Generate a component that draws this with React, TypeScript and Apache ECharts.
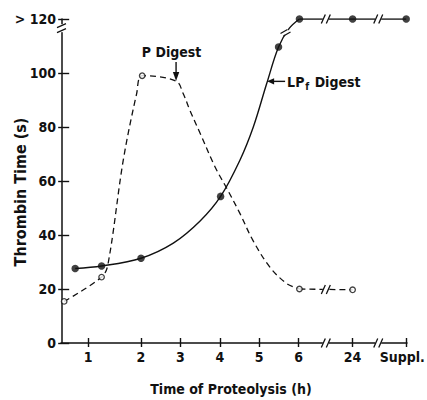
import React, { useEffect, useRef } from 'react';
import * as echarts from 'echarts';

// Tick labels and where they sit on the (drawn, piecewise) time axis
const xTickLabels = ['1', '2', '3', '4', '5', '6', '24', 'Suppl.'];
const xTickPos = [0.66, 2, 3, 4, 5, 6, 7.37, 8.73];
const yTickValues = [0, 20, 40, 60, 80, 100, 120];
const yTickLabels = ['0', '20', '40', '60', '80', '100', '> 120'];

// LPf Digest (solid line, filled dots)
const lpfDotX = [0.33, 1.0, 2.0, 4.02, 5.49, 6.02, 7.37, 8.73];
const lpfDotY = [27.6, 28.5, 31.4, 54.3, 109.6, 120, 120, 120];
const lpfCurveX = [0.33, 1.0, 2.0, 2.82, 3.5, 4.02, 4.51, 4.85, 5.19, 5.49, 5.76, 6.02];
const lpfCurveY = [27.6, 28.5, 31.4, 37.0, 45.2, 54.3, 67.7, 80.0, 96.1, 109.6, 116.5, 120];
const lpfFlatX = [6.02, 7.37, 8.73];
const lpfFlatY = [120, 120, 120];

// P Digest (dashed line, open circles)
const pDotX = [0.05, 1.0, 2.03, 6.02, 7.37];
const pDotY = [15.4, 24.4, 99.0, 20.0, 19.7];
const pCurveX = [0.05, 1.0, 1.16, 1.55, 1.89, 2.03, 2.89, 3.07, 3.24, 3.5, 3.88, 4.18, 4.51, 4.84, 5.27, 5.7, 6.02];
const pCurveY = [15.4, 24.4, 29.0, 67.7, 92.4, 99.0, 97.0, 92.4, 86.2, 77.7, 65.2, 57.2, 48.0, 38.0, 28.1, 22.0, 20.0];
const pFlatX = [6.02, 7.37];
const pFlatY = [20.0, 19.7];

// axis breaks (time axis) and annotation anchors
const xBreaks = [6.69, 8.02];
const yBreak = 116.6;
const curveBreak = [5.68, 115.2];
const pArrowAt = [2.89, 97.0];
const lpfArrowAt = [5.2, 96.9];

const zip = (xs: number[], ys: number[]) => xs.map((x, i) => [x, ys[i]]);

const INK = '#111';
const FAMILY = '"DejaVu Sans Condensed", "Liberation Sans Narrow", sans-serif';
const font = (s: number) => `bold ${s}px ${FAMILY}`;

export default function App() {
  const ref = useRef<HTMLDivElement>(null);

  useEffect(() => {
    document.body.style.margin = '0';
    if (!ref.current) return;
    const chart = echarts.init(ref.current, undefined, { renderer: 'svg' });

    const xLabel = (v: number) => {
      const i = xTickPos.findIndex((p) => Math.abs(p - v) < 1e-6);
      if (i < 0) return '';
      return i === xTickLabels.length - 1 ? `{last|${xTickLabels[i]}}` : xTickLabels[i];
    };
    const yLabel = (v: number) => {
      const i = yTickValues.indexOf(v);
      return i >= 0 ? yTickLabels[i] : '';
    };

    const axisX = (inner: boolean) => ({
      type: 'value',
      min: -0.03,
      max: 8.75,
      position: 'bottom',
      offset: 0,
      axisLine: { show: !inner, lineStyle: { color: INK, width: 1.5 } },
      axisTick: {
        show: true,
        inside: inner,
        length: inner ? 5 : 4,
        customValues: xTickPos,
        lineStyle: { color: INK, width: 1.4 },
      },
      axisLabel: {
        show: !inner,
        customValues: xTickPos,
        formatter: xLabel,
        margin: 7,
        color: INK,
        fontFamily: FAMILY,
        fontWeight: 'bold',
        fontSize: 14,
        rich: {
          last: { fontFamily: FAMILY, fontWeight: 'bold', fontSize: 14, color: INK, padding: [0, 8, 0, 0] },
        },
      },
      splitLine: { show: false },
    });

    const axisY = (inner: boolean) => ({
      type: 'value',
      min: 0,
      max: 120,
      interval: 20,
      position: 'left',
      offset: 0,
      axisLine: { show: !inner, lineStyle: { color: INK, width: 1.5 } },
      axisTick: {
        show: true,
        inside: inner,
        length: inner ? 7 : 4,
        lineStyle: { color: INK, width: 1.4 },
      },
      axisLabel: {
        show: !inner,
        formatter: yLabel,
        margin: 5,
        color: INK,
        fontFamily: FAMILY,
        fontWeight: 'bold',
        fontSize: 14,
      },
      splitLine: { show: false },
    });

    chart.setOption({
      animation: false,
      backgroundColor: '#fff',
      grid: { left: 61, right: 20, top: 19, bottom: 57, containLabel: false, outerBoundsMode: 'none' },
      xAxis: [axisX(false), axisX(true)],
      yAxis: [axisY(false), axisY(true)],
      series: [
        {
          name: 'LPf Digest',
          type: 'line',
          data: zip(lpfCurveX, lpfCurveY),
          smooth: 0.35,
          symbol: 'none',
          lineStyle: { color: INK, width: 1.4 },
          z: 2,
        },
        {
          type: 'line',
          data: zip(lpfFlatX, lpfFlatY),
          symbol: 'none',
          lineStyle: { color: INK, width: 1.4 },
          z: 2,
        },
        {
          name: 'P Digest',
          type: 'line',
          data: zip(pCurveX, pCurveY),
          smooth: 0.35,
          symbol: 'none',
          lineStyle: { color: INK, width: 1.3, type: [6, 4] },
          z: 2,
        },
        {
          type: 'line',
          data: zip(pFlatX, pFlatY),
          symbol: 'none',
          lineStyle: { color: INK, width: 1.3, type: [6, 4] },
          z: 2,
        },
        {
          type: 'scatter',
          data: zip(lpfDotX, lpfDotY),
          symbol: 'circle',
          symbolSize: 7.5,
          itemStyle: { color: INK },
          z: 5,
        },
        {
          type: 'scatter',
          data: zip(pDotX, pDotY),
          symbol: 'circle',
          symbolSize: 5.5,
          itemStyle: { color: '#fff', borderColor: INK, borderWidth: 1.3 },
          z: 5,
        },
      ],
    });

    const px = (u: number, v: number) =>
      chart.convertToPixel({ gridIndex: 0 }, [u, v]) as number[];

    const line = (x1: number, y1: number, x2: number, y2: number, w = 1.3) => ({
      type: 'line',
      z: 101,
      shape: { x1, y1, x2, y2 },
      style: { stroke: INK, lineWidth: w },
    });

    const hBreak = (p: number[]) => {
      const [x, y] = p;
      return [
        { type: 'rect', z: 100, shape: { x: x - 3, y: y - 2.5, width: 6, height: 5 }, style: { fill: '#fff' } },
        line(x - 4.5, y + 4.5, x - 0.5, y - 4.5),
        line(x + 0.5, y + 4.5, x + 4.5, y - 4.5),
      ];
    };

    const graphics: any[] = [];
    xBreaks.forEach((u) => {
      graphics.push(...hBreak(px(u, 0)));
      graphics.push(...hBreak(px(u, 120)));
    });
    graphics.push(...hBreak(px(xBreaks[0], (pFlatY[0] + pFlatY[1]) / 2)));

    // y-axis break
    {
      const [x0, y] = px(-0.03, yBreak);
      graphics.push(
        { type: 'rect', z: 100, shape: { x: x0 - 3, y: y - 4, width: 6, height: 8 }, style: { fill: '#fff' } },
        line(x0 - 4, y - 0.5, x0 + 5, y - 4.5),
        line(x0 - 4, y + 4.5, x0 + 5, y + 0.5),
      );
    }

    // break on the rising LPf curve
    {
      const [x, y] = px(curveBreak[0], curveBreak[1]);
      graphics.push(
        { type: 'circle', z: 100, shape: { cx: x, cy: y, r: 3.2 }, style: { fill: '#fff' } },
        line(x - 5.5, y + 1.5, x + 1.5, y - 2.5),
        line(x - 2.5, y + 4, x + 4.5, y),
      );
    }

    // P Digest label + arrow
    {
      const [x, y] = px(pArrowAt[0], pArrowAt[1]);
      graphics.push(
        line(x, y - 19, x, y - 6, 1.4),
        { type: 'polygon', z: 101, shape: { points: [[x - 3.2, y - 9], [x + 3.2, y - 9], [x, y]] }, style: { fill: INK } },
        {
          type: 'text',
          z: 101,
          x: x - 4.5,
          y: y - 29,
          style: { text: 'P Digest', font: font(14), fill: INK, align: 'center', verticalAlign: 'middle', textAlign: 'center', textVerticalAlign: 'middle' },
        },
      );
    }

    // LPf Digest label + arrow
    {
      const [x, y] = px(lpfArrowAt[0], lpfArrowAt[1]);
      graphics.push(
        line(x + 5, y, x + 18, y, 1.4),
        { type: 'polygon', z: 101, shape: { points: [[x, y], [x + 7, y - 3.2], [x + 7, y + 3.2]] }, style: { fill: INK } },
        {
          type: 'text',
          z: 101,
          x: x + 20,
          y: y + 1,
          style: {
            text: '{a|LP}{s|f}{a| Digest}',
            fill: INK,
            align: 'left',
            verticalAlign: 'middle',
            textAlign: 'left',
            textVerticalAlign: 'middle',
            rich: {
              a: { fontFamily: FAMILY, fontWeight: 'bold', fontSize: 14, fill: INK, color: INK },
              s: { fontFamily: FAMILY, fontWeight: 'bold', fontSize: 10, fill: INK, color: INK, padding: [8, 1, 0, 1] },
            },
          },
        },
      );
    }

    // axis titles
    graphics.push(
      {
        type: 'text',
        z: 101,
        x: 20,
        y: 192,
        rotation: Math.PI / 2,
        style: { text: 'Thrombin Time (s)', font: font(16), fill: INK, align: 'center', verticalAlign: 'middle', textAlign: 'center', textVerticalAlign: 'middle' },
      },
      {
        type: 'text',
        z: 101,
        x: 231,
        y: 389,
        style: { text: 'Time of Proteolysis (h)', font: font(14), fill: INK, align: 'center', verticalAlign: 'middle', textAlign: 'center', textVerticalAlign: 'middle' },
      },
    );

    chart.setOption({ graphic: { elements: graphics } });

    return () => chart.dispose();
  }, []);

  return <div ref={ref} style={{ width: 427, height: 400 }} />;
}
